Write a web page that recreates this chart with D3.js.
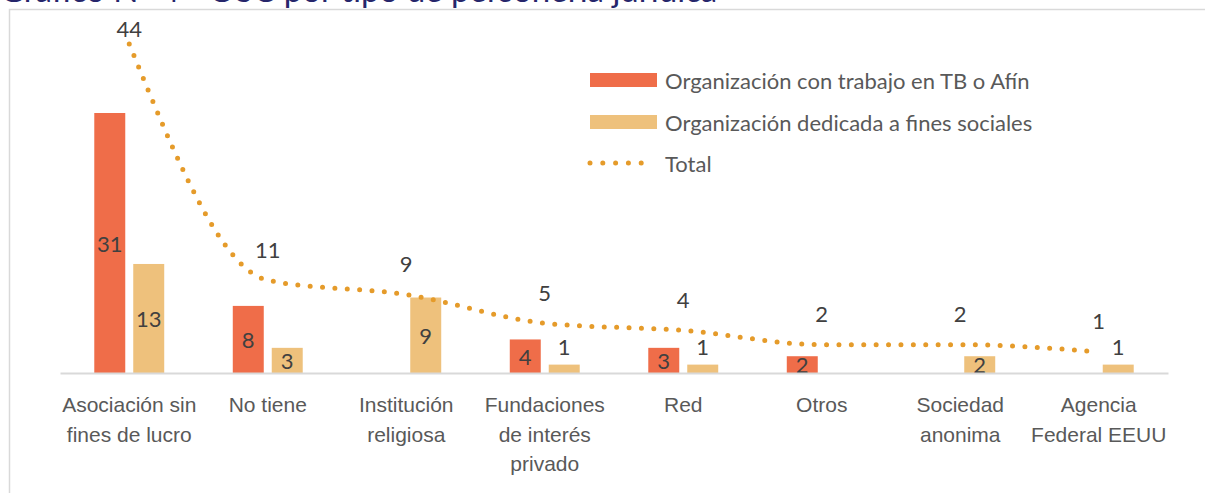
<!DOCTYPE html>
<html>
<head>
<meta charset="utf-8">
<script src="https://cdn.jsdelivr.net/npm/d3@7"></script>
<style>
  body { margin: 0; background: #fff; }
  svg { display: block; font-family: Lato, "Liberation Sans", sans-serif; }
</style>
</head>
<body>
<div id="vis"></div>
<script>
// data
var categories = [
  'Asociación sin\nfines de lucro',
  'No tiene',
  'Institución\nreligiosa',
  'Fundaciones\nde interés\nprivado',
  'Red',
  'Otros',
  'Sociedad\nanonima',
  'Agencia\nFederal EEUU'
];
var seriesNames = ['Organización con trabajo en TB o Afín', 'Organización dedicada a fines sociales'];
var trabajoTB = [31, 8, 0, 4, 3, 2, 0, 0];
var finesSociales = [13, 3, 9, 1, 1, 0, 2, 1];
var totalName = 'Total';
var total = [44, 11, 9, 5, 4, 2, 2, 1];
var title = 'Gráfico N° 4 - OSC por tipo de personería jurídica';

var width = 1205;
var height = 493;
var baseY = 373;
var colors = ['#EF6D49', '#EEC17C'];
var lineColor = '#E59B2A';
var textColor = '#404040';
var axisTextColor = '#595959';

var svg = d3.select('#vis').append('svg')
  .attr('width', width)
  .attr('height', height);

// chart border (cut by the page edge)
svg.append('rect')
  .attr('x', 9.5).attr('y', 9.5)
  .attr('width', width + 20).attr('height', height + 20)
  .attr('fill', '#fff')
  .attr('stroke', '#d9d9d9')
  .attr('stroke-width', 1.5);

// title, mostly cut off at the top
svg.append('text')
  .attr('x', 0).attr('y', 2)
  .attr('fill', '#26266b')
  .style('font-size', '33px')
  .text(title);

var x0 = d3.scaleBand()
  .domain(categories)
  .range([60, 1168])
  .paddingInner(0.495)
  .paddingOuter(0.2475);

var x1 = d3.scaleBand()
  .domain([0, 1])
  .range([0, x0.bandwidth()])
  .paddingInner(0.205);

var y = d3.scaleLinear().domain([0, 31]).range([baseY, 113]);
var y2 = d3.scaleLinear().domain([0, 44]).range([359, 44]);

var rows = categories.map(function (c, i) {
  return { cat: c, values: [trabajoTB[i], finesSociales[i]], total: total[i] };
});

// bars
var groups = svg.selectAll('.cat')
  .data(rows)
  .enter().append('g')
  .attr('class', 'cat')
  .attr('transform', function (d) { return 'translate(' + x0(d.cat) + ',0)'; });

groups.selectAll('rect')
  .data(function (d) { return d.values.map(function (v, k) { return { k: k, v: v }; }); })
  .enter().append('rect')
  .attr('x', function (d) { return x1(d.k); })
  .attr('y', function (d) { return y(d.v); })
  .attr('width', x1.bandwidth())
  .attr('height', function (d) { return baseY - y(d.v); })
  .attr('fill', function (d) { return colors[d.k]; });

// x axis
var xAxis = svg.append('g')
  .attr('transform', 'translate(0,' + baseY + ')')
  .call(d3.axisBottom(x0).tickSize(0).tickSizeOuter(0));

xAxis.select('.domain')
  .attr('stroke', '#d9d9d9')
  .attr('stroke-width', 2);

xAxis.selectAll('text').each(function (d) {
  var t = d3.select(this);
  t.text(null)
    .attr('y', 39)
    .attr('dy', null)
    .attr('fill', axisTextColor)
    .style('font-size', '21px');
  d.split('\n').forEach(function (line, i) {
    t.append('tspan')
      .attr('x', 0)
      .attr('dy', i === 0 ? 0 : 29.5)
      .text(line);
  });
});

// bar labels
groups.selectAll('.barlabel')
  .data(function (d) { return d.values.map(function (v, k) { return { k: k, v: v }; }).filter(function (e) { return e.v > 0; }); })
  .enter().append('text')
  .attr('class', 'barlabel')
  .attr('x', function (d) { return x1(d.k) + x1.bandwidth() / 2; })
  .attr('y', function (d) {
    var top = y(d.v);
    if (baseY - top < 12) return top - 18;
    return (top + baseY) / 2;
  })
  .attr('text-anchor', 'middle')
  .attr('dominant-baseline', 'central')
  .attr('fill', textColor)
  .style('font-size', '22px')
  .text(function (d) { return d.v; });

// total line
function cx(d) { return x0(d.cat) + x0.bandwidth() / 2; }

var line = d3.line()
  .x(cx)
  .y(function (d) { return y2(d.total); })
  .curve(d3.curveMonotoneX);

svg.append('path')
  .datum(rows)
  .attr('d', line)
  .attr('fill', 'none')
  .attr('stroke', lineColor)
  .attr('stroke-width', 5)
  .attr('stroke-linecap', 'round')
  .attr('stroke-dasharray', '0 12.4');

svg.selectAll('.totlabel')
  .data(rows)
  .enter().append('text')
  .attr('class', 'totlabel')
  .attr('x', cx)
  .attr('y', function (d) { return Math.max(y2(d.total) - 31, 28); })
  .attr('text-anchor', 'middle')
  .attr('dominant-baseline', 'central')
  .attr('fill', textColor)
  .style('font-size', '22px')
  .text(function (d) { return d.total; });

// legend
var legend = svg.append('g').attr('transform', 'translate(590,0)');
var legendY = [80, 122, 163];

seriesNames.forEach(function (name, i) {
  legend.append('rect')
    .attr('x', 0).attr('y', legendY[i] - 7)
    .attr('width', 67).attr('height', 14)
    .attr('fill', colors[i]);
  legend.append('text')
    .attr('x', 75).attr('y', legendY[i])
    .attr('dominant-baseline', 'central')
    .attr('fill', axisTextColor)
    .style('font-size', '22px')
    .text(name);
});

legend.append('line')
  .attr('x1', 0).attr('x2', 64)
  .attr('y1', legendY[2]).attr('y2', legendY[2])
  .attr('stroke', lineColor)
  .attr('stroke-width', 5)
  .attr('stroke-linecap', 'round')
  .attr('stroke-dasharray', '0 12.8');

legend.append('text')
  .attr('x', 75).attr('y', legendY[2])
  .attr('dominant-baseline', 'central')
  .attr('fill', axisTextColor)
  .style('font-size', '22px')
  .text(totalName);
</script>
</body>
</html>
